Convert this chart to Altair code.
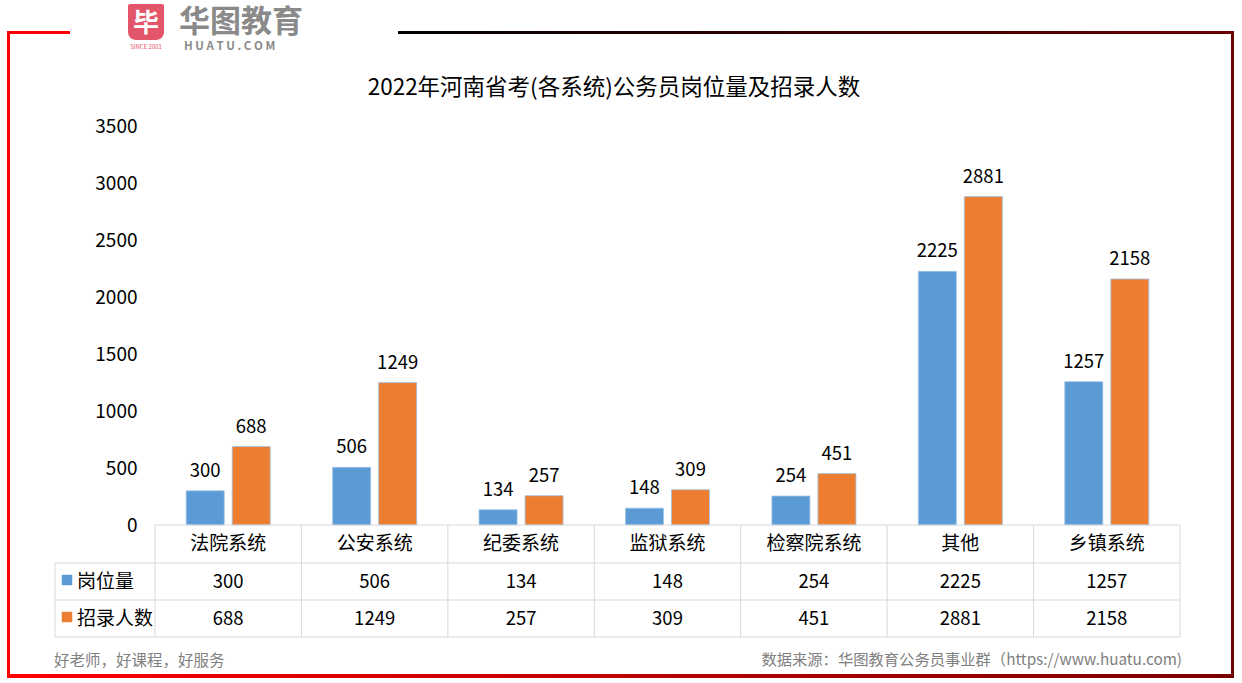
import altair as alt
import pandas as pd

categories = ["法院系统", "公安系统", "纪委系统", "监狱系统", "检察院系统", "其他", "乡镇系统"]
series = ["岗位量", "招录人数"]
posts = [300, 506, 134, 148, 254, 2225, 1257]
hires = [688, 1249, 257, 309, 451, 2881, 2158]
y_ticks = [0, 500, 1000, 1500, 2000, 2500, 3000, 3500]
colors = ["#5B9BD5", "#ED7D31"]

title_text = "2022年河南省考(各系统)公务员岗位量及招录人数"
footer_left = "好老师，好课程，好服务"
footer_right = "数据来源：华图教育公务员事业群（https://www.huatu.com)"

FONT = "Noto Sans CJK SC"
W, H = 1025, 399
OX, OY = 155, 126  # plot origin on the page

rows = []
for c, p, h in zip(categories, posts, hires):
    rows.append({"cat": c, "series": series[0], "value": p})
    rows.append({"cat": c, "series": series[1], "value": h})
df = pd.DataFrame(rows)
cat_df = pd.DataFrame({"cat": categories})
one = pd.DataFrame({"a": [0]})

xscale = alt.Scale(domain=categories, paddingInner=0, paddingOuter=0)

def xcat(bp=None):
    if bp is None:
        return alt.X("cat:N", sort=categories, scale=xscale, axis=None)
    return alt.X("cat:N", sort=categories, scale=xscale, axis=None, bandPosition=bp)

xoff = alt.XOffset("series:N", sort=series,
                   scale=alt.Scale(paddingInner=0.174, paddingOuter=0.678))
y_enc = alt.Y("value:Q", scale=alt.Scale(domain=[0, 3500]),
              axis=alt.Axis(title=None, values=y_ticks, format="d", ticks=False, domain=False,
                            grid=False, labelFontSize=19, labelColor="#000000", labelFont=FONT,
                            labelPadding=18))
col = alt.Color("series:N", scale=alt.Scale(domain=series, range=colors), legend=None)

bars = alt.Chart(df).mark_bar(stroke="#9dc3e6", strokeWidth=0.8).encode(
    x=xcat(), xOffset=xoff, y=y_enc, color=col)

bar_labels = alt.Chart(df).mark_text(fontSize=18.5, font=FONT, color="#000000",
                                     baseline="alphabetic", dy=-14).encode(
    x=xcat(), xOffset=xoff, y=alt.Y("value:Q"), text="value:Q")

# ---- data table under the plot ----
grid_c = "#d9d9d9"
head_y, row1_y, row2_y = 544 - OY, 582 - OY, 619 - OY
tbl_top, r1_top, r2_top, tbl_bot = 525 - OY, 563 - OY, 600 - OY, 637 - OY
left_x = 55 - OX

header = alt.Chart(cat_df).mark_text(fontSize=19, font=FONT, color="#000000",
                                     baseline="middle").encode(
    x=xcat(0.5), y=alt.value(head_y), text="cat:N")

vlines = alt.Chart(cat_df).mark_rule(color=grid_c, strokeWidth=1).encode(
    x=xcat(0), y=alt.value(tbl_top), y2=alt.value(tbl_bot))
vline_end = alt.Chart(one).mark_rule(color=grid_c, strokeWidth=1).encode(
    x=alt.value(W), y=alt.value(tbl_top), y2=alt.value(tbl_bot))
vline_left = alt.Chart(one).mark_rule(color=grid_c, strokeWidth=1).encode(
    x=alt.value(left_x), y=alt.value(r1_top), y2=alt.value(tbl_bot))
hline_top = alt.Chart(one).mark_rule(color=grid_c, strokeWidth=1).encode(
    x=alt.value(0), x2=alt.value(W), y=alt.value(tbl_top))
hlines = [alt.Chart(one).mark_rule(color=grid_c, strokeWidth=1).encode(
    x=alt.value(left_x), x2=alt.value(W), y=alt.value(yy)) for yy in (r1_top, r2_top, tbl_bot)]

row_texts = []
for s, yy in zip(series, (row1_y, row2_y)):
    row_texts.append(
        alt.Chart(df).transform_filter(alt.datum.series == s).mark_text(
            fontSize=18.5, font=FONT, color="#000000", baseline="middle").encode(
            x=xcat(0.5), y=alt.value(yy), text="value:Q"))

legend_sq = []
legend_tx = []
for s, c, yy in zip(series, colors, (row1_y, row2_y)):
    legend_sq.append(alt.Chart(one).mark_square(color=c, size=110, opacity=1).encode(
        x=alt.value(67 - OX), y=alt.value(yy - 2)))
    legend_tx.append(alt.Chart(one).mark_text(text=s, fontSize=19, font=FONT, color="#000000",
                                              align="left", baseline="middle").encode(
        x=alt.value(77 - OX), y=alt.value(yy)))

# ---- title & footer ----
title = alt.Chart(one).mark_text(text=title_text, fontSize=22.5, font=FONT, color="#000000",
                                 baseline="middle").encode(
    x=alt.value(614 - OX), y=alt.value(88 - OY))
foot_l = alt.Chart(one).mark_text(text=footer_left, fontSize=15.5, font=FONT, color="#808080",
                                  align="left", baseline="middle").encode(
    x=alt.value(54 - OX), y=alt.value(661 - OY))
foot_r = alt.Chart(one).mark_text(text=footer_right, fontSize=15.3, font=FONT, color="#808080",
                                  align="right", baseline="middle").encode(
    x=alt.value(1182 - OX), y=alt.value(660 - OY))

# ---- frame ----
def grad(c1, c2):
    return alt.Gradient(gradient="linear",
                        stops=[alt.GradientStop(color=c1, offset=0),
                               alt.GradientStop(color=c2, offset=1)],
                        x1=0, y1=0, x2=1, y2=0)

def frame_rect(x0, y0, x1, y1, color):
    return alt.Chart(one).mark_rect(color=color).encode(
        x=alt.value(x0 - OX), x2=alt.value(x1 - OX), y=alt.value(y0 - OY), y2=alt.value(y1 - OY))

frame = [
    frame_rect(7, 31, 10, 678, "#ff0000"),
    frame_rect(7, 674, 1234, 678, grad("#ff0000", "#7a0000")),
    frame_rect(7, 31, 70, 34, "#ff0000"),
    frame_rect(398, 31, 1234, 34, grad("#000000", "#6b0000")),
    frame_rect(1231, 31, 1234, 678, "#6b0000"),
]

# ---- logo ----
logo = [
    alt.Chart(one).mark_rect(color="#e3566a", cornerRadiusBottomLeft=8,
                             cornerRadiusBottomRight=8, cornerRadiusTopLeft=2,
                             cornerRadiusTopRight=2).encode(
        x=alt.value(128 - OX), x2=alt.value(164 - OX), y=alt.value(4 - OY), y2=alt.value(40 - OY)),
    alt.Chart(one).mark_text(text="毕", fontSize=26, font=FONT, fontWeight="bold", color="#ffffff",
                             baseline="middle").encode(x=alt.value(146 - OX), y=alt.value(24 - OY)),
    alt.Chart(one).mark_text(text="SINCE 2001", fontSize=6, font=FONT, color="#e3566a",
                             baseline="middle").encode(x=alt.value(146 - OX), y=alt.value(47 - OY)),
    alt.Chart(one).mark_text(text="华图教育", fontSize=31, font=FONT, fontWeight="bold",
                             color="#8a8a8a", align="left", baseline="middle").encode(
        x=alt.value(179 - OX), y=alt.value(23 - OY)),
    alt.Chart(one).mark_text(text="H U A T U . C O M", fontSize=11.5, font=FONT, fontWeight="bold",
                             color="#8a8a8a", align="left", baseline="middle").encode(
        x=alt.value(184 - OX), y=alt.value(47 - OY)),
]

chart = alt.layer(
    bars, bar_labels, header, *row_texts,
    vlines, vline_end, vline_left, hline_top, *hlines,
    *legend_sq, *legend_tx, title, foot_l, foot_r,
    *frame, *logo,
).properties(
    width=W, height=H,
    autosize=alt.AutoSizeParams(type="none"),
    padding={"left": OX, "top": OY, "right": 1242 - OX - W, "bottom": 683 - OY - H},
).configure(background="#ffffff").configure_view(stroke=None, strokeWidth=0)

chart.save("out.html", embed_options={"renderer": "svg", "actions": False})
